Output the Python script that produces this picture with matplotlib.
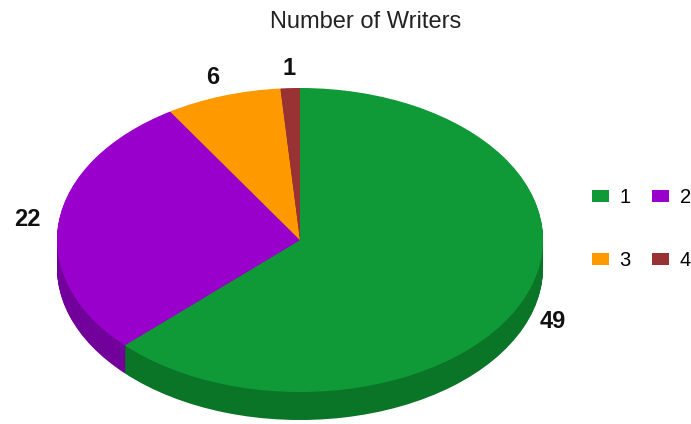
"""
Pie chart of writer counts per group, drawn with a tilted top face and a
visible rim so the disc reads as a thick 3D slab.
"""

import matplotlib

matplotlib.use("Agg")
import matplotlib.pyplot as plt
from matplotlib.patches import Patch
import numpy as np

plt.rcParams["font.family"] = ["Liberation Sans", "DejaVu Sans"]

# <> Data
CATEGORIES = ["1", "2", "3", "4"]
WRITER_COUNTS = [49, 22, 6, 1]
TITLE = "Number of Writers"

# <> Styling
TOP_COLORS = ["#0f9a37", "#9900cc", "#ff9900", "#993333"]
SIDE_COLORS = ["#0a7527", "#72009a", "#c27400", "#722525"]
FIG_W, FIG_H, DPI = 6.91, 4.24, 100

# Pie geometry in pixels: centre of top face, horizontal/vertical radii, rim depth
CENTER_X, CENTER_Y = 300, 240
RADIUS_X, RADIUS_Y = 243, 152
RIM_DEPTH = 28
RIM_LAYERS = 40
LABEL_DISTANCE = 1.13

figure = plt.figure(figsize=(FIG_W, FIG_H), dpi=DPI)
axis = figure.add_axes([0, 0, 1, 1])

# Rim: stack darker copies of the pie downwards, then the bright top face
depth = RIM_DEPTH / RADIUS_Y
for offset in np.linspace(-depth, 0, RIM_LAYERS, endpoint=False):
    axis.pie(
        WRITER_COUNTS,
        colors=SIDE_COLORS,
        startangle=90,
        counterclock=False,
        center=(0, offset),
        wedgeprops={"linewidth": 0, "antialiased": True},
    )
axis.pie(
    WRITER_COUNTS,
    colors=TOP_COLORS,
    startangle=90,
    counterclock=False,
    wedgeprops={"linewidth": 0},
)

# Value labels outside each slice, at its mid angle; front labels drop with the rim
total = sum(WRITER_COUNTS)
cumulative = 0
for count in WRITER_COUNTS:
    mid = 90 - 360 * (cumulative + count / 2) / total
    cumulative += count
    theta = np.deg2rad(mid)
    x = LABEL_DISTANCE * np.cos(theta)
    y = LABEL_DISTANCE * np.sin(theta)
    if y < 0:
        y -= depth * 0.5
    axis.text(x, y, str(count), ha="center", va="center",
              fontsize=17, fontweight="bold", color="#111111")

# Squash the circle into an ellipse by mapping the figure pixels onto data units
width_px, height_px = FIG_W * DPI, FIG_H * DPI
axis.set_aspect("auto")
axis.set_xlim(-CENTER_X / RADIUS_X, (width_px - CENTER_X) / RADIUS_X)
axis.set_ylim((CENTER_Y - height_px) / RADIUS_Y, CENTER_Y / RADIUS_Y)
axis.axis("off")

figure.text(366 / width_px, 1 - 22 / height_px, TITLE, ha="center", va="center",
            fontsize=17, color="#222222")

# Legend laid out row by row: 1 2 / 3 4
legend_font = 14.5
font_px = legend_font * DPI / 72
order = [0, 2, 1, 3]
handles = [Patch(facecolor=TOP_COLORS[i], edgecolor="none") for i in order]
labels = [CATEGORIES[i] for i in order]
figure.legend(
    handles,
    labels,
    loc="upper left",
    bbox_to_anchor=(592 / width_px, 1 - 188 / height_px),
    ncol=2,
    frameon=False,
    fontsize=legend_font,
    handlelength=17 / font_px,
    handleheight=11 / font_px,
    handletextpad=0.5,
    columnspacing=1.1,
    labelspacing=2.2,
    borderpad=0,
    borderaxespad=0,
)

figure.savefig("out.png", dpi=DPI)
plt.close(figure)
